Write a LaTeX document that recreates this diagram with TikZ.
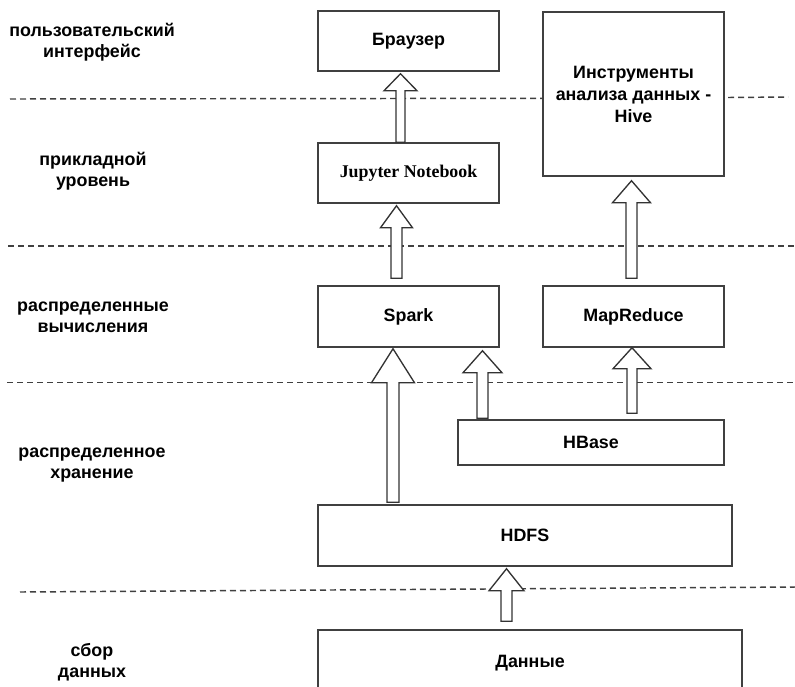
\documentclass[tikz,border=0pt]{standalone}
\usepackage{fontspec}
\setmainfont{Liberation Sans}
\newfontfamily\nbserif{Liberation Serif}
\usetikzlibrary{calc,backgrounds}

\tikzset{
  box/.style={draw=black!75, line width=1.1pt, fill=white, inner sep=0pt,
    font=\bfseries\fontsize{13.4}{16.5}\selectfont, align=center},
  layerlabel/.style={font=\bfseries\fontsize{13.4}{15.75}\selectfont, align=center, inner sep=0pt},
  layerline/.style={draw=black!75, line width=1.1pt, dash pattern=on 4.5pt off 3pt},
  blockarr/.style={draw=black!80, line width=1pt, fill=white, line join=miter},
}

% box from corner (#2,#3) to corner (#4,#5), units are pixels
\newcommand{\layerbox}[6]{%
  \node[box, minimum width={(#4-#2)*0.75pt}, minimum height={(#5-#3)*0.75pt}]
    (#1) at ({(#2+#4)/2},{(#3+#5)/2}) {#6};}

% hollow block arrow going up from node #2 to node #3 at x = #1
% #4 gap below shaft, #5 gap above tip, #6 shaft half width, #7 head half width, #8 head length
\newcommand{\flowarrow}[8]{%
  \draw[blockarr] let \p1=(#1,0 |- #2.north), \p2=(#1,0 |- #3.south) in
    (\x1-#6*0.75pt,\y1+#4*0.75pt)
    -- (\x1-#6*0.75pt,\y2-#5*0.75pt-#8*0.75pt)
    -- (\x1-#7*0.75pt,\y2-#5*0.75pt-#8*0.75pt)
    -- (\x1,\y2-#5*0.75pt)
    -- (\x1+#7*0.75pt,\y2-#5*0.75pt-#8*0.75pt)
    -- (\x1+#6*0.75pt,\y2-#5*0.75pt-#8*0.75pt)
    -- (\x1+#6*0.75pt,\y1+#4*0.75pt) -- cycle;}

\begin{document}
\begin{tikzpicture}[x=0.75pt, y=-0.75pt]
  \useasboundingbox (0,0) rectangle (795,686);
  \clip (0,0) rectangle (795,686);

  % layer names
  \node[layerlabel] (lui)  at (92,42)  {пользовательский\\интерфейс};
  \node[layerlabel] (lapp) at (93,171) {прикладной\\уровень};
  \node[layerlabel] (lcmp) at (93,317) {распределенные\\вычисления};
  \node[layerlabel] (lsto) at (92,465) {распределенное\\хранение};
  \node[layerlabel] (lcol) at (92,662) {сбор\\данных};

  % components
  \layerbox{br}{318}{11}{499}{71}{Браузер}
  \layerbox{hive}{543}{12}{724}{176}{Инструменты\\анализа данных -\\Hive}
  \layerbox{jup}{318}{143}{499}{203}{{\nbserif\bfseries Jupyter Notebook}}
  \layerbox{spark}{318}{286}{499}{347}{Spark}
  \layerbox{mr}{543}{286}{724}{347}{MapReduce}
  \layerbox{hbase}{458}{420}{724}{465}{HBase}
  \layerbox{hdfs}{318}{505}{732}{566}{HDFS}
  \layerbox{data}{318}{630}{742}{696}{Данные}

  % layer separators
  \begin{pgfonlayer}{background}
    \draw[layerline] (10,99) -- (543,98.3);
    \draw[layerline] (728,97.5) -- (788,97);
    \draw[layerline] (8,246) -- (795,246);
    \draw[layerline] (7,382.5) -- (795,382.5);
    \draw[layerline] (20,592) -- (795,587);
  \end{pgfonlayer}

  % data flow
  \flowarrow{400.5}{jup}{br}{0}{2}{4.5}{16.5}{17}
  \flowarrow{396.5}{spark}{jup}{7}{2}{5.5}{16}{22}
  \flowarrow{631.5}{mr}{hive}{7}{4}{5.5}{19}{22}
  \flowarrow{393}{hdfs}{spark}{2}{1}{6}{21.5}{34}
  \flowarrow{482.5}{hbase}{spark}{1}{3}{5.5}{19.5}{22}
  \flowarrow{632}{hbase}{mr}{6}{0}{5}{19}{21}
  \flowarrow{506.5}{data}{hdfs}{8}{2}{5.5}{17.5}{22}
\end{tikzpicture}
\end{document}
